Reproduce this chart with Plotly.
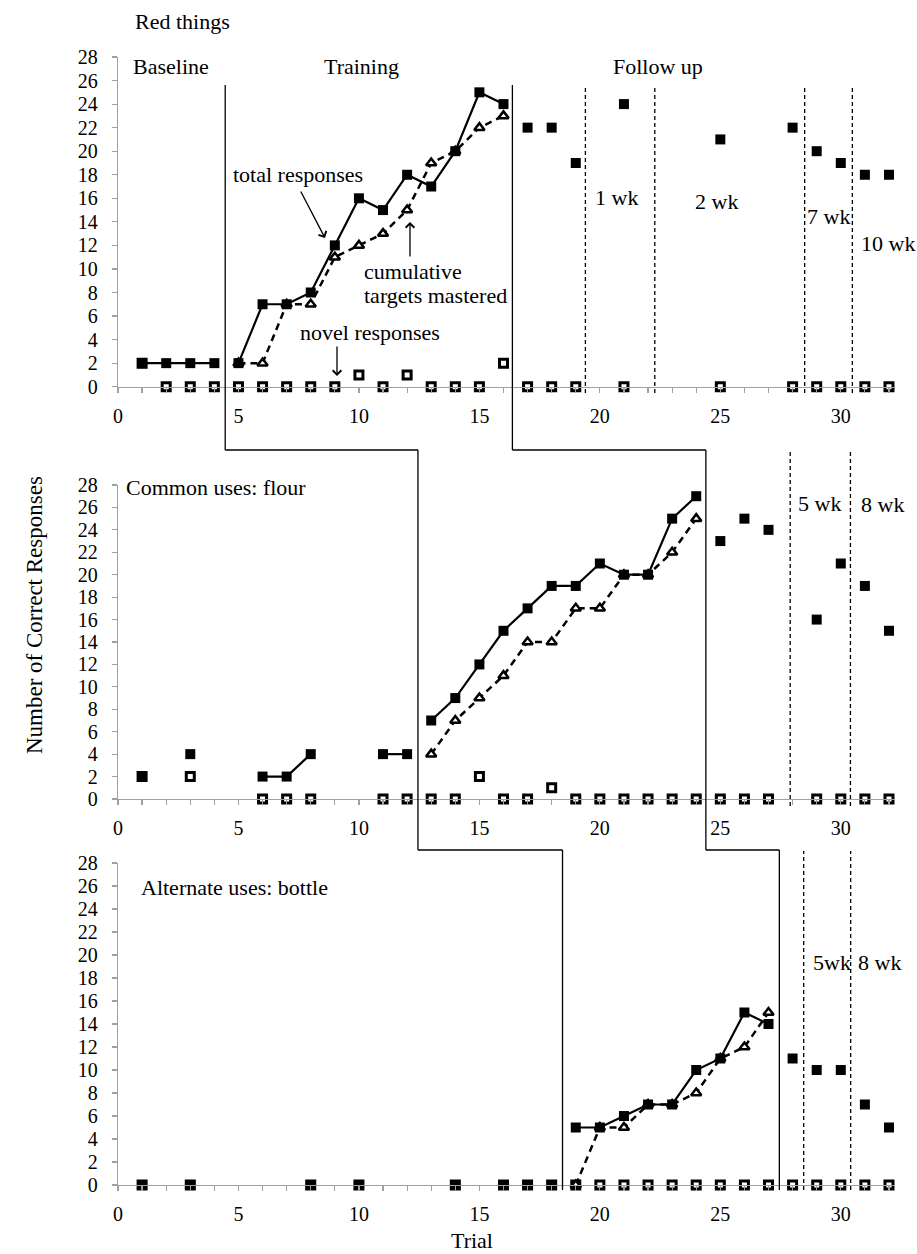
import plotly.graph_objects as go

# ---------------- data ----------------
x_tick_vals = [0, 5, 10, 15, 20, 25, 30]
y_tick_vals = [0, 2, 4, 6, 8, 10, 12, 14, 16, 18, 20, 22, 24, 26, 28]

# Panel 1: Red things
red_base_trials = [1, 2, 3, 4]
red_base_total = [2, 2, 2, 2]
red_base_novel = [2, 0, 0, 0]
red_train_trials = [5, 6, 7, 8, 9, 10, 11, 12, 13, 14, 15, 16]
red_train_total = [2, 7, 7, 8, 12, 16, 15, 18, 17, 20, 25, 24]
red_train_cum = [2, 2, 7, 7, 11, 12, 13, 15, 19, 20, 22, 23]
red_train_novel = [0, 0, 0, 0, 0, 1, 0, 1, 0, 0, 0, 2]
red_fu_trials = [17, 18, 19, 21, 25, 28, 29, 30, 31, 32]
red_fu_total = [22, 22, 19, 24, 21, 22, 20, 19, 18, 18]
red_fu_novel = [0, 0, 0, 0, 0, 0, 0, 0, 0, 0]

# Panel 2: Common uses: flour
flour_base_trials = [1, 2, 3, 4, 5, 6, 7, 8, 9, 10, 11, 12]
flour_base_total = [2, None, 4, None, None, 2, 2, 4, None, None, 4, 4]
flour_base_novel = [2, None, 2, None, None, 0, 0, 0, None, None, 0, 0]
flour_train_trials = [13, 14, 15, 16, 17, 18, 19, 20, 21, 22, 23, 24]
flour_train_total = [7, 9, 12, 15, 17, 19, 19, 21, 20, 20, 25, 27]
flour_train_cum = [4, 7, 9, 11, 14, 14, 17, 17, 20, 20, 22, 25]
flour_train_novel = [0, 0, 2, 0, 0, 1, 0, 0, 0, 0, 0, 0]
flour_fu_trials = [25, 26, 27, 29, 30, 31, 32]
flour_fu_total = [23, 25, 24, 16, 21, 19, 15]
flour_fu_novel = [0, 0, 0, 0, 0, 0, 0]

# Panel 3: Alternate uses: bottle
bottle_base_trials = [1, 3, 8, 10, 14, 16, 17, 18]
bottle_base_total = [0, 0, 0, 0, 0, 0, 0, 0]
bottle_base_novel = [0, 0, 0, 0, 0, 0, 0, 0]
bottle_train_trials = [19, 20, 21, 22, 23, 24, 25, 26, 27]
bottle_train_total = [5, 5, 6, 7, 7, 10, 11, 15, 14]
bottle_train_cum = [0, 5, 5, 7, 7, 8, 11, 12, 15]
bottle_train_novel = [0, 0, 0, 0, 0, 0, 0, 0, 0]
bottle_fu_trials = [28, 29, 30, 31, 32]
bottle_fu_total = [11, 10, 10, 7, 5]
bottle_fu_novel = [0, 0, 0, 0, 0]

# phase-change lines (trial positions)
phase_line_a = [4.45, 12.45, 18.45]
phase_line_b = [16.37, 24.4, 27.45]
followup_lines_red = [19.4, 22.28, 28.5, 30.48]
followup_lines_flour = [27.9, 30.4]
followup_lines_bottle = [28.46, 30.41]

# ---------------- layout helpers ----------------
W, H = 917, 1254
L, R, T, B = 118, 895, 57, 1185


def PX(px):
    return (px - L) / (R - L)


def PY(py):
    return (B - py) / (B - T)


FONT = "Liberation Serif"
GREY = "#A0A0A0"

filled = dict(symbol="square", size=10, color="black", line=dict(width=0))
open_sq = dict(symbol="square", size=8, color="white", line=dict(color="black", width=3))
tri = dict(symbol="triangle-up", size=9, color="white", line=dict(color="black", width=2.5))

fig = go.Figure()


def add_panel(idx, base_t, base_tot, base_nov, tr_t, tr_tot, tr_cum, tr_nov,
              fu_t, fu_tot, fu_nov, base_lines=True):
    xa = "x" if idx == 1 else f"x{idx}"
    ya = "y" if idx == 1 else f"y{idx}"
    common = dict(xaxis=xa, yaxis=ya, showlegend=False, cliponaxis=False,
                  hoverinfo="skip")
    # novel responses
    for t, v in ((base_t, base_nov), (tr_t, tr_nov), (fu_t, fu_nov)):
        fig.add_trace(go.Scatter(x=t, y=v, mode="markers", marker=open_sq, **common))
    # cumulative targets mastered
    fig.add_trace(go.Scatter(x=tr_t, y=tr_cum, mode="lines+markers", marker=tri,
                             line=dict(color="black", width=2.5, dash="7px,5px"),
                             **common))
    # total responses
    fig.add_trace(go.Scatter(x=base_t, y=base_tot,
                             mode="lines+markers" if base_lines else "markers",
                             marker=filled, line=dict(color="black", width=2.2),
                             connectgaps=False, **common))
    fig.add_trace(go.Scatter(x=tr_t, y=tr_tot, mode="lines+markers", marker=filled,
                             line=dict(color="black", width=2.2), **common))
    fig.add_trace(go.Scatter(x=fu_t, y=fu_tot, mode="markers", marker=filled, **common))


add_panel(1, red_base_trials, red_base_total, red_base_novel, red_train_trials,
          red_train_total, red_train_cum, red_train_novel, red_fu_trials,
          red_fu_total, red_fu_novel)
add_panel(2, flour_base_trials, flour_base_total, flour_base_novel, flour_train_trials,
          flour_train_total, flour_train_cum, flour_train_novel, flour_fu_trials,
          flour_fu_total, flour_fu_novel)
add_panel(3, bottle_base_trials, bottle_base_total, bottle_base_novel,
          bottle_train_trials, bottle_train_total, bottle_train_cum,
          bottle_train_novel, bottle_fu_trials, bottle_fu_total, bottle_fu_novel,
          base_lines=False)

# panel domains (pixel tops/bottoms)
panels = [(57, 386.7), (485, 799), (863, 1185)]

xrange_ = [0, 32.25]
axis_font = dict(family=FONT, size=20, color="black")

layout = dict(
    width=W, height=H,
    margin=dict(l=L, r=W - R, t=T, b=H - B),
    paper_bgcolor="white", plot_bgcolor="white",
    font=dict(family=FONT, size=22, color="black"),
)
for i, (ytop, ybot) in enumerate(panels, start=1):
    sfx = "" if i == 1 else str(i)
    layout["xaxis" + sfx] = dict(
        domain=[0, 1], range=xrange_, anchor="y" + sfx,
        showline=True, linecolor=GREY, linewidth=1.3,
        ticks="outside", ticklen=5, tickcolor=GREY, tickwidth=1.2,
        tickmode="array", tickvals=x_tick_vals,
        minor=dict(dtick=1, tick0=0, ticks="outside", ticklen=5,
                   tickcolor=GREY, tickwidth=1.2, showgrid=False),
        showgrid=False, zeroline=False, tickfont=axis_font,
        ticklabelstandoff=6,
    )
    layout["yaxis" + sfx] = dict(
        domain=[PY(ybot), PY(ytop)], range=[0, 28], anchor="x" + sfx,
        showline=True, linecolor=GREY, linewidth=1.3,
        ticks="outside", ticklen=5, tickcolor=GREY, tickwidth=1.2,
        tickmode="array", tickvals=y_tick_vals,
        showgrid=False, zeroline=False, tickfont=axis_font,
        ticklabelstandoff=10,
    )
fig.update_layout(**layout)

# ---------------- shapes ----------------
shapes = []
solid = dict(color="black", width=1.3)
dashed = dict(color="black", width=1.3, dash="4px,3px")
stair_y = [85, 450, 850, 1190]
for xs in (phase_line_a, phase_line_b):
    for k in range(3):
        shapes.append(dict(type="line", xref="x", yref="paper",
                           x0=xs[k], x1=xs[k], y0=PY(stair_y[k]), y1=PY(stair_y[k + 1]),
                           line=solid))
        if k < 2:
            shapes.append(dict(type="line", xref="x", yref="paper",
                               x0=xs[k], x1=xs[k + 1],
                               y0=PY(stair_y[k + 1]), y1=PY(stair_y[k + 1]),
                               line=solid))
for xs, y0, y1 in ((followup_lines_red, 85, 393), (followup_lines_flour, 450, 806),
                   (followup_lines_bottle, 851, 1190)):
    for xv in xs:
        shapes.append(dict(type="line", xref="x", yref="paper", x0=xv, x1=xv,
                           y0=PY(y1), y1=PY(y0), line=dashed))
fig.update_layout(shapes=shapes)

# ---------------- annotations ----------------
ann = []


def text(s, x, y, xanchor="left", size=22, yanchor="middle", **kw):
    ann.append(dict(text=s, x=PX(x), y=PY(y), xref="paper", yref="paper",
                    xanchor=xanchor, yanchor=yanchor, showarrow=False,
                    font=dict(family=FONT, size=size, color="black"),
                    borderpad=0, **kw))


def arrow(tail, head):
    ann.append(dict(text="", x=PX(head[0]), y=PY(head[1]), xref="paper", yref="paper",
                    ax=tail[0] - head[0], ay=tail[1] - head[1], axref="pixel",
                    ayref="pixel", showarrow=True, arrowhead=4, arrowsize=1.3,
                    arrowwidth=1.3, arrowcolor="black", standoff=0, startstandoff=0))


text("Red things", 134, 21)
text("Baseline", 132, 67)
text("Training", 361, 67, xanchor="center")
text("Follow up", 658, 67, xanchor="center")
text("1 wk", 594, 197)
text("2 wk", 694, 202)
text("7 wk", 806, 217)
text("10 wk", 916, 244, xanchor="right", size=22)
text("total responses", 232, 175)
text("cumulative", 363, 272)
text("targets mastered", 363, 295)
text("novel responses", 299, 333)
arrow((300, 190), (325, 238))
arrow((410, 258), (410, 222))
arrow((337, 345), (337, 376))

text("Common uses: flour", 125, 487)
text("5 wk", 797, 503)
text("8 wk", 860, 504)

text("Alternate uses: bottle", 140, 887)
text("5wk", 812, 962)
text("8 wk", 857, 962)

text("Number of Correct Responses", 34, 615, xanchor="center", size=23, textangle=-90)
text("Trial", 472, 1254, xanchor="center", yanchor="bottom")

fig.update_layout(annotations=ann)

fig.write_html(
    "out.html",
    config={"displayModeBar": False, "staticPlot": True},
    post_script=(
        "document.documentElement.style.margin='0';"
        "document.body.style.margin='0';"
        "document.body.style.padding='0';"
        "document.body.style.overflow='hidden';"
        "document.documentElement.style.overflow='hidden';"
    ),
)
